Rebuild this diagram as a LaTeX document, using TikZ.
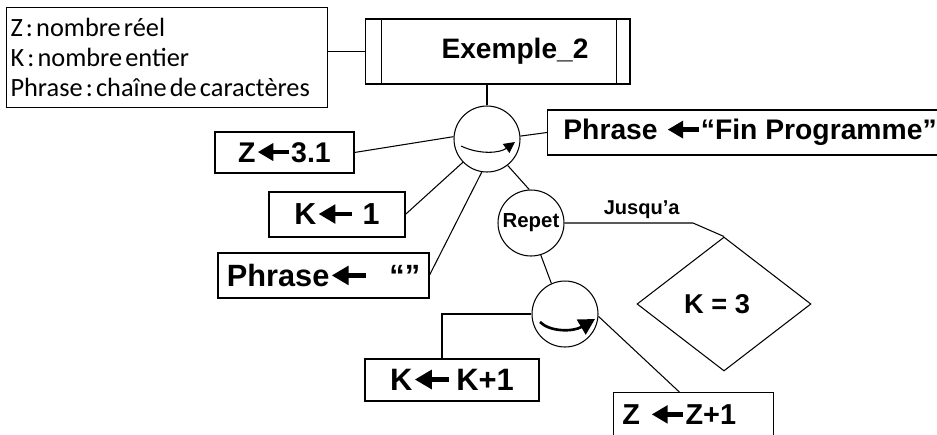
\documentclass[tikz,border=0pt]{standalone}
\usepackage{fontspec}
\setmainfont{Liberation Sans}
\newfontfamily\calibri{Carlito}
\usetikzlibrary{shapes.geometric,arrows.meta}

% fleche d'affectation dans le texte
\newcommand{\fl}{\tikz[baseline=-0.36em]\draw[line width=0.15em,{Triangle[length=0.55em,width=0.6em]}-](0,0)--(1.1em,0);}
\newcommand{\taille}[1]{\bfseries\fontsize{#1}{#1}\selectfont}
\newcommand{\serre}{\frenchspacing\spaceskip=0.12em\xspaceskip=0.12em\relax}

\begin{document}
\begin{tikzpicture}[x=0.02cm, y=-0.02cm, line width=0.6pt,
    boite/.style={draw, rectangle, inner sep=0pt},
    rond/.style={draw, circle, minimum size=1.32cm, inner sep=0pt}]
      \useasboundingbox (0,0) rectangle (937,434);

      % Declarations
      \node[draw, anchor=north west, minimum width=6.42cm, minimum height=2cm,
            text width=6.26cm, align=flush left, inner sep=0.08cm,
            font=\calibri\fontsize{15}{17}\selectfont] (decl) at (6,7)
            {\serre Z : nombre réel\\K : nombre entier\\Phrase : chaîne de caractères};

      % Titre
      \node[boite, minimum width=5.3cm, minimum height=1.3cm, font=\taille{16}] (titre) at (497.5,51.5) {\hspace*{0.7cm}Exemple\_2};
      \draw ([xshift=0.34cm]titre.north west) -- ([xshift=0.34cm]titre.south west);
      \draw ([xshift=-0.28cm]titre.north east) -- ([xshift=-0.28cm]titre.south east);
      \draw (titre.west) -- (titre.west -| decl.east);

      % Sequence principale
      \node[rond] (c1) at (487,139) {};
      \draw (titre.south -| c1.north) -- (c1.north);
      \draw[shift={(c1.center)}, -{Triangle[length=0.22cm,width=0.22cm]}] (-26,7) .. controls (-7,16) and (13,14) .. (28,3);

      % Affectations
      \node[boite, minimum width=2.78cm, minimum height=0.82cm, font=\taille{16.2}] (z31) at (284.5,152.5) {Z\fl3.1};
      \node[boite, minimum width=2.72cm, minimum height=0.9cm, font=\taille{17.3}] (k1) at (337,214.5) {K\fl\ 1};
      \node[boite, minimum width=4.22cm, minimum height=0.9cm, font=\taille{17.5}] (phr) at (323.5,275.5) {Phrase\fl\hspace{0.7em}“”};
      \node[boite, anchor=west, minimum height=0.9cm, inner xsep=0.32cm, font=\taille{16.1}] (fin) at (547,132.5) {Phrase \fl“Fin Programme”};
      \draw (z31.east) -- (c1.176);
      \draw (k1.east) -- (c1.224);
      \draw (phr.east) -- (c1.261);
      \draw (c1.5) -- (fin.west);

      % Boucle
      \node[rond, font=\taille{11.6}] (repet) at (531,223) {Repet};
      \draw (c1.308) -- (repet.93);
      \node[draw, diamond, minimum width=3.48cm, minimum height=2.68cm, inner sep=0pt, font=\taille{15.5}] (cond) at (724,304) {K = 3\hspace*{0.28cm}};
      \coordinate (coude) at (693,223);
      \draw (repet.east) -- node[above, pos=0.6, inner sep=2pt, font=\taille{11.4}] (jusqua) {Jusqu’a} (coude) -- (cond.north);

      % Corps de la boucle
      \node[rond] (c3) at (565,314) {};
      \draw (repet.287) -- (c3.114);
      \draw[shift={(c3.center)}, line width=1.5pt, -{Triangle[length=0.32cm,width=0.34cm]}] (-25,8) .. controls (-15,18) and (8,18) .. (30,5);
      \node[boite, minimum width=3.48cm, minimum height=0.84cm, font=\taille{17.6}] (kk1) at (452,380) {K\fl\,K+1};
      \node[boite, anchor=north west, minimum width=3.2cm, minimum height=0.9cm, text width=2.84cm, align=left, inner xsep=0.18cm, font=\taille{16.4}] (z1) at (613,392) {Z \fl Z+1};
      \draw (c3.west) -| ([xshift=-0.2cm]kk1.north);
      \draw (c3.356) -- ([xshift=-0.28cm]z1.north);
\end{tikzpicture}
\end{document}
